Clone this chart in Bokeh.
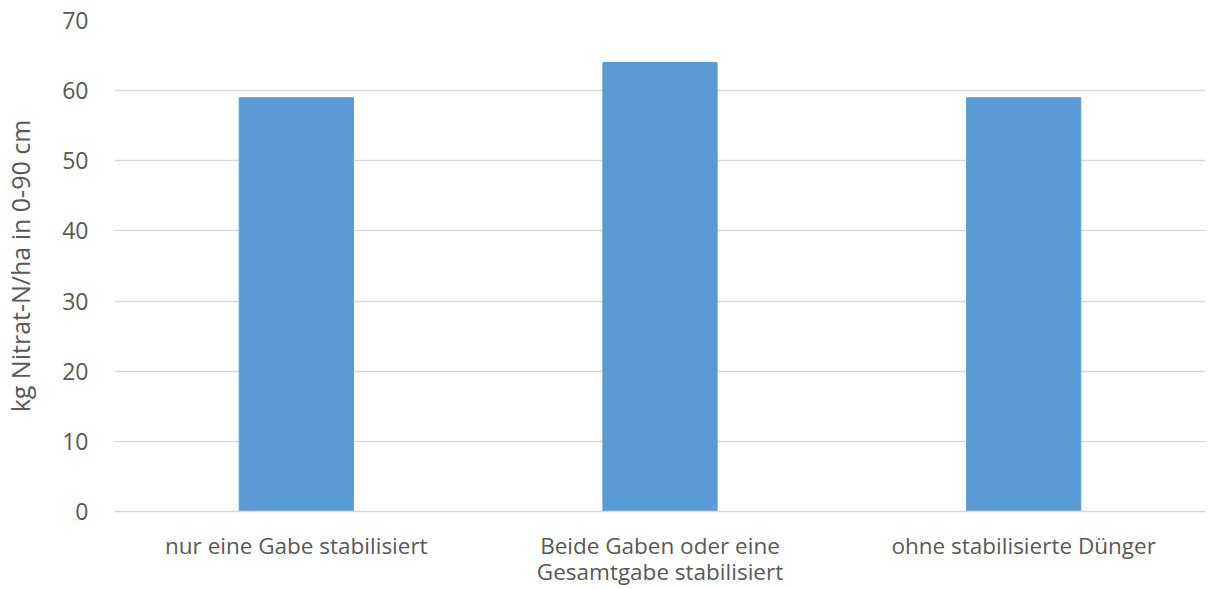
from bokeh.plotting import figure
from bokeh.models import FactorRange, Range1d, SingleIntervalTicker, CustomJSTickFormatter
from bokeh.embed import file_html
from bokeh.resources import INLINE

# Nitrate-N in soil (0-90 cm) per fertilizer variant
categories = [
    "nur eine Gabe stabilisiert",
    "Beide Gaben oder eine Gesamtgabe stabilisiert",
    "ohne stabilisierte Dünger",
]
category_labels = [
    "nur eine Gabe stabilisiert",
    "Beide Gaben oder eine\nGesamtgabe stabilisiert",
    "ohne stabilisierte Dünger",
]
nitrate_n = [59, 64, 59]

FONT = "Open Sans"
TEXT = "#595959"

p = figure(
    width=1209, height=589,
    x_range=FactorRange(*categories, range_padding=0),
    y_range=Range1d(0, 70),
    output_backend="svg", toolbar_location=None,
    min_border_left=113, min_border_right=4,
    min_border_top=20, min_border_bottom=78,
)
p.x_range.group_padding = 0
p.x_range.factor_padding = 0

p.vbar(x=categories, top=nitrate_n, width=0.314, color="#5B9BD5")

p.outline_line_color = None
p.xgrid.grid_line_color = None
p.ygrid.grid_line_color = "#D9D9D9"
p.ygrid.grid_line_width = 1.3
p.yaxis.ticker = SingleIntervalTicker(interval=10)

p.yaxis.axis_line_color = None
p.yaxis.major_tick_line_color = None
p.yaxis.minor_tick_line_color = None
p.yaxis.major_label_standoff = 20
p.yaxis.major_label_text_font = FONT
p.yaxis.major_label_text_font_size = "23px"
p.yaxis.major_label_text_color = TEXT
p.yaxis.axis_label = "kg Nitrat-N/ha in 0-90 cm"
p.yaxis.axis_label_text_font = FONT
p.yaxis.axis_label_text_font_size = "25px"
p.yaxis.axis_label_text_font_style = "normal"
p.yaxis.axis_label_text_color = TEXT
p.yaxis.axis_label_standoff = 22

p.xaxis.axis_line_color = "#D9D9D9"
p.xaxis.axis_line_width = 1.3
p.xaxis.major_tick_line_color = None
p.xaxis.minor_tick_line_color = None
p.xaxis.major_label_standoff = 12
p.xaxis.major_label_text_font = FONT
p.xaxis.major_label_text_font_size = "22.5px"
p.xaxis.major_label_text_line_height = 0.85
p.xaxis.major_label_text_color = TEXT
p.xaxis.formatter = CustomJSTickFormatter(
    args=dict(names=categories, labels=category_labels),
    code="const i = names.indexOf(tick); return i >= 0 ? labels[i] : tick;",
)

open("out.html", "w").write(file_html(p, INLINE))
